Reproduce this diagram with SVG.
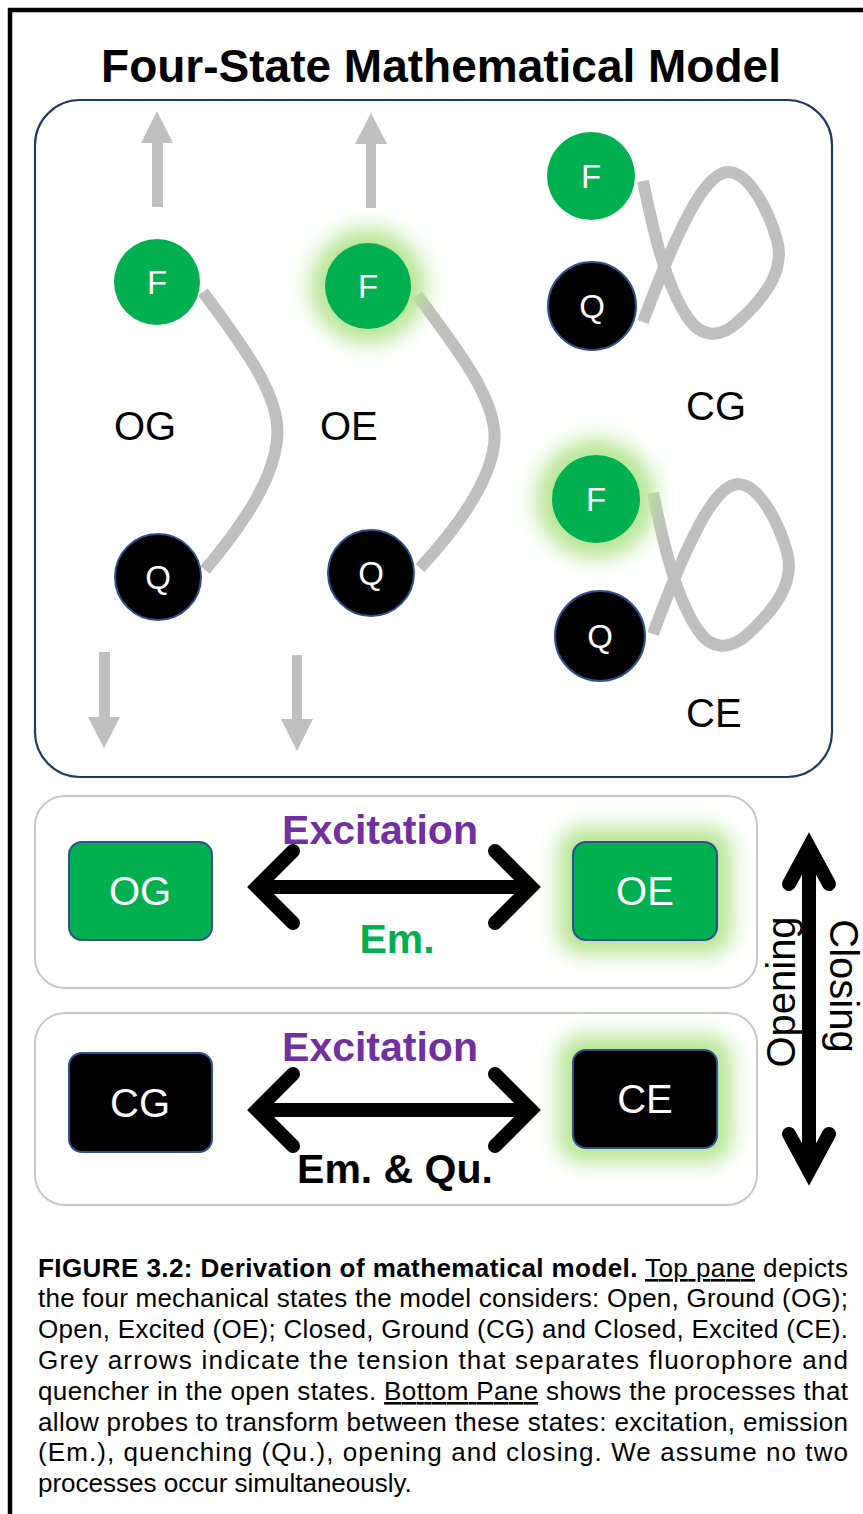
<svg xmlns="http://www.w3.org/2000/svg" width="863" height="1514" viewBox="0 0 863 1514">
<defs>
<style>
.sans{font-family:"Liberation Sans",Arial,sans-serif}
.bold{font-family:"Liberation Sans",Arial,sans-serif;font-weight:bold}
.lbl{font-family:"Liberation Sans",Arial,sans-serif;font-size:40px;fill:#000}
.cl{font-family:"Liberation Sans",Arial,sans-serif;font-size:33px;fill:#fff;text-anchor:middle}
.bx{font-family:"Liberation Sans",Arial,sans-serif;font-size:40px;fill:#fff;text-anchor:middle}
.fc{fill:#00b050}
.qc{fill:#000;stroke:#2f4f8f;stroke-width:2}
.teth{fill:none;stroke:#bfbfbf;stroke-width:12;stroke-linecap:butt;stroke-linejoin:round}
.garrow{fill:#bfbfbf}
.glow{fill:#b8e595;filter:url(#blur)}
.panel{fill:#fff;stroke:#c8c8c8;stroke-width:2}
.bk{fill:none;stroke:#000;stroke-width:14;stroke-linecap:round;stroke-linejoin:miter}
.cap{font-family:"Liberation Sans",Arial,sans-serif;font-size:26px;fill:#000}
</style>
<filter id="blur" x="-60%" y="-60%" width="220%" height="220%"><feGaussianBlur stdDeviation="10"/></filter>
<path id="loop" d="M 643 181 C 652 225, 665 285, 688 318 C 700 336, 718 340, 738 322 C 762 300, 786 272, 777 240 C 768 208, 748 172, 728 172 C 708 173, 688 212, 668 258 C 659 280, 650 302, 643 322"/>
</defs>
<rect width="863" height="1514" fill="#fff"/>
<rect x="10" y="10" width="900" height="1600" fill="none" stroke="#000" stroke-width="4.5"/>
<text class="bold" x="441" y="82" font-size="46" text-anchor="middle">Four-State Mathematical Model</text>

<g id="top-pane">
<rect x="35" y="100" width="797" height="677" rx="45" fill="#fff" stroke="#1f3864" stroke-width="2.2"/>
</g>

<g id="panel-open">
<rect class="panel" x="35" y="796" width="722" height="192" rx="30"/>
<text class="bold" x="380" y="844" font-size="41" fill="#7030a0" text-anchor="middle">Excitation</text>
<text class="bold" x="397" y="953" font-size="41" fill="#00b050" text-anchor="middle">Em.</text>
</g>
<g id="panel-closed">
<rect class="panel" x="35" y="1013" width="722" height="192" rx="30"/>
<text class="bold" x="380" y="1061" font-size="41" fill="#7030a0" text-anchor="middle">Excitation</text>
<text class="bold" x="395" y="1183" font-size="41" fill="#000" text-anchor="middle">Em. &amp; Qu.</text>
</g>

<g id="connectors">
<path class="garrow" d="M 152 207 L 152 143 L 141 143 L 157 111 L 173 143 L 163 143 L 163 207 Z"/>
<path class="garrow" d="M 366 208 L 366 144 L 355 144 L 371 113 L 387 144 L 376 144 L 376 208 Z"/>
<path class="garrow" d="M 99 652 L 99 717 L 88 717 L 104 748 L 120 717 L 110 717 L 110 652 Z"/>
<path class="garrow" d="M 292 655 L 292 719 L 281 719 L 297 751 L 313 719 L 302 719 L 302 655 Z"/>
<path class="teth" d="M 203 292 C 250 355, 282 400, 277 440 C 273 482, 240 528, 205 570"/>
<path class="teth" d="M 417 295 C 462 355, 500 405, 494 445 C 489 485, 455 530, 420 568"/>
<use href="#loop" class="teth"/>
<use href="#loop" class="teth" transform="translate(10 312)"/>
<path class="bk" d="M 262 887 L 526 887"/>
<path class="bk" d="M 293 851 L 257 887 L 293 923"/>
<path class="bk" d="M 495 851 L 531 887 L 495 923"/>
<path class="bk" d="M 262 1110 L 526 1110"/>
<path class="bk" d="M 293 1074 L 257 1110 L 293 1146"/>
<path class="bk" d="M 495 1074 L 531 1110 L 495 1146"/>
<path class="bk" d="M 809 852 L 809 1166" stroke-width="12"/>
<path class="bk" d="M 789 884 L 809 847 L 829 884"/>
<path class="bk" d="M 789 1134 L 809 1171 L 829 1134"/>
</g>

<g id="OG-state">
<circle class="fc" cx="157" cy="282" r="43"/>
<text class="cl" x="157" y="294">F</text>
<circle class="qc" cx="158" cy="577" r="43"/>
<text class="cl" x="158" y="589">Q</text>
<text class="lbl" x="114" y="440">OG</text>
</g>

<g id="OE-state">
<circle class="glow" cx="368" cy="286" r="58"/>
<circle class="fc" cx="368" cy="286" r="43"/>
<text class="cl" x="368" y="298">F</text>
<circle class="qc" cx="371" cy="573" r="43"/>
<text class="cl" x="371" y="585">Q</text>
<text class="lbl" x="320" y="440">OE</text>
</g>

<g id="CG-state">
<circle class="fc" cx="591" cy="176" r="44"/>
<text class="cl" x="591" y="188">F</text>
<circle class="qc" cx="592" cy="306" r="44"/>
<text class="cl" x="592" y="318">Q</text>
<text class="lbl" x="686" y="420">CG</text>
</g>

<g id="CE-state">
<circle class="glow" cx="596" cy="499" r="60"/>
<circle class="fc" cx="596" cy="499" r="44"/>
<text class="cl" x="596" y="511">F</text>
<circle class="qc" cx="600" cy="636" r="45"/>
<text class="cl" x="600" y="648">Q</text>
<text class="lbl" x="686" y="727">CE</text>
</g>

<g id="box-OG">
<rect x="69" y="842" width="143" height="98" rx="13" fill="#00b050" stroke="#2f4f8f" stroke-width="2"/>
<text class="bx" x="140" y="905">OG</text>
</g>
<g id="box-OE">
<rect x="558" y="827" width="174" height="128" rx="24" class="glow"/>
<rect x="573" y="842" width="144" height="98" rx="13" fill="#00b050" stroke="#2f4f8f" stroke-width="2"/>
<text class="bx" x="645" y="905">OE</text>
</g>
<g id="box-CG">
<rect x="69" y="1053" width="143" height="99" rx="13" fill="#000" stroke="#2f4f8f" stroke-width="2"/>
<text class="bx" x="140" y="1117">CG</text>
</g>
<g id="box-CE">
<rect x="558" y="1035" width="174" height="128" rx="24" class="glow"/>
<rect x="573" y="1050" width="144" height="98" rx="13" fill="#000" stroke="#2f4f8f" stroke-width="2"/>
<text class="bx" x="645" y="1113">CE</text>
</g>

<g id="open-close-labels">
<text class="sans" font-size="40" text-anchor="middle" transform="translate(795 992) rotate(-90)">Opening</text>
<text class="sans" font-size="40" text-anchor="middle" transform="translate(830 986) rotate(90)">Closing</text>
</g>

<g id="caption">
<text class="cap" x="38" y="1277" textLength="810" lengthAdjust="spacing"><tspan font-weight="bold">FIGURE 3.2: Derivation of mathematical model.</tspan> <tspan text-decoration="underline">Top pane</tspan> depicts</text>
<text class="cap" x="38" y="1307" textLength="810" lengthAdjust="spacing">the four mechanical states the model considers: Open, Ground (OG);</text>
<text class="cap" x="38" y="1338" textLength="810" lengthAdjust="spacing">Open, Excited (OE); Closed, Ground (CG) and Closed, Excited (CE).</text>
<text class="cap" x="38" y="1369" textLength="810" lengthAdjust="spacing">Grey arrows indicate the tension that separates fluorophore and</text>
<text class="cap" x="38" y="1400" textLength="810" lengthAdjust="spacing">quencher in the open states. <tspan text-decoration="underline">Bottom Pane</tspan> shows the processes that</text>
<text class="cap" x="38" y="1431" textLength="810" lengthAdjust="spacing">allow probes to transform between these states: excitation, emission</text>
<text class="cap" x="38" y="1461" textLength="810" lengthAdjust="spacing">(Em.), quenching (Qu.), opening and closing. We assume no two</text>
<text class="cap" x="38" y="1492">processes occur simultaneously.</text>
</g>
</svg>
